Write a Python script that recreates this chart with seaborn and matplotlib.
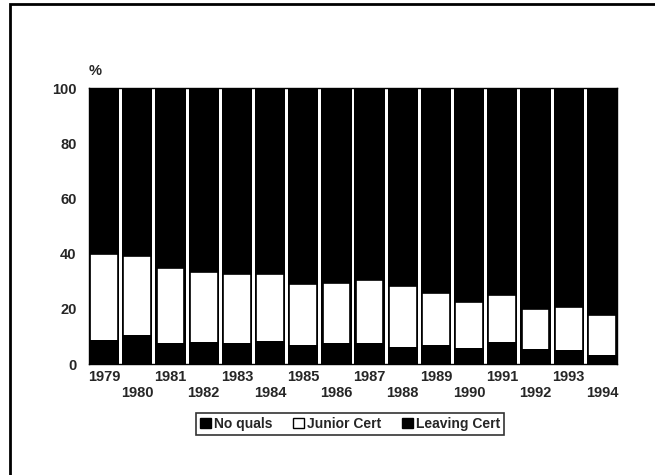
import matplotlib
matplotlib.use("Agg")
import matplotlib.pyplot as plt
import seaborn as sns
import pandas as pd
import numpy as np
from matplotlib.patches import Patch, Rectangle

years = [str(y) for y in range(1979, 1995)]
no_quals = [8.7, 10.4, 7.7, 8.1, 7.7, 8.4, 6.9, 7.6, 7.6, 6.3, 6.9, 5.7, 8.0, 5.4, 5.1, 3.4]
junior_cert = [31.0, 28.9, 27.0, 25.3, 25.0, 24.3, 22.0, 21.9, 22.7, 21.9, 18.9, 16.6, 17.1, 14.7, 15.7, 14.3]
leaving_cert = [round(100 - a - b, 1) for a, b in zip(no_quals, junior_cert)]
series_names = ["No quals", "Junior Cert", "Leaving Cert"]
y_ticks = [0, 20, 40, 60, 80, 100]

sns.set_theme(style="white")
plt.rcParams["font.family"] = ["Liberation Sans", "DejaVu Sans"]
plt.rcParams["font.weight"] = "bold"

df = pd.DataFrame({"year": years, "nq": no_quals, "jc": junior_cert, "lc": leaving_cert})
df["top_jc"] = df["nq"] + df["jc"]
df["total"] = df["top_jc"] + df["lc"]

fig = plt.figure(figsize=(6.55, 4.75), dpi=100)
ax = fig.add_axes([89 / 655, 1 - 364 / 475, (617 - 89) / 655, (364 - 88) / 475])

w = 0.91
sns.barplot(data=df, x="year", y="total", color="black", width=w, ax=ax,
            saturation=1, edgecolor="black", linewidth=0)
sns.barplot(data=df, x="year", y="top_jc", color="white", width=w * 0.92, ax=ax,
            saturation=1, edgecolor="black", linewidth=1.2)
sns.barplot(data=df, x="year", y="nq", color="black", width=w, ax=ax,
            saturation=1, edgecolor="black", linewidth=0)

ax.set_xlim(-w / 2, len(years) - 1 + w / 2)
ax.set_ylim(0, 100)
ax.set_yticks(y_ticks)
ax.set_yticklabels([str(t) for t in y_ticks], fontsize=10.5, fontweight="bold")
labels = [y if i % 2 == 0 else "\n" + y for i, y in enumerate(years)]
ax.set_xticks(range(len(years)))
ax.set_xticklabels(labels, fontsize=10.5, fontweight="bold", linespacing=1.25)
ax.tick_params(axis="both", length=0)
ax.tick_params(axis="y", pad=9)
ax.tick_params(axis="x", pad=4)
ax.set_xlabel("")
ax.set_ylabel("")
for s in ax.spines.values():
    s.set_color("black")
    s.set_linewidth(1)

ax.text(0.0, 1.035, "%", transform=ax.transAxes, ha="left", va="bottom",
        fontsize=10.5, fontweight="bold")

handles = [Patch(facecolor="black", edgecolor="black", label=series_names[0]),
           Patch(facecolor="white", edgecolor="black", label=series_names[1]),
           Patch(facecolor="black", edgecolor="black", label=series_names[2])]
leg = fig.legend(handles=handles, loc="center", bbox_to_anchor=(350 / 655, 1 - 424 / 475),
                 ncol=3, frameon=True, fancybox=False,
                 prop={"size": 10, "weight": "bold"},
                 handlelength=0.8, handleheight=0.8, handletextpad=0.2,
                 columnspacing=1.5, borderpad=0.3, borderaxespad=0)
leg.get_frame().set_edgecolor("black")
leg.get_frame().set_linewidth(1.2)

frame = Rectangle((10 / 655, -0.05), 1.1, 1 - 4 / 475 + 0.05, transform=fig.transFigure,
                  fill=False, edgecolor="black", linewidth=2, clip_on=False)
fig.patches.append(frame)

fig.savefig("out.png", dpi=100)
